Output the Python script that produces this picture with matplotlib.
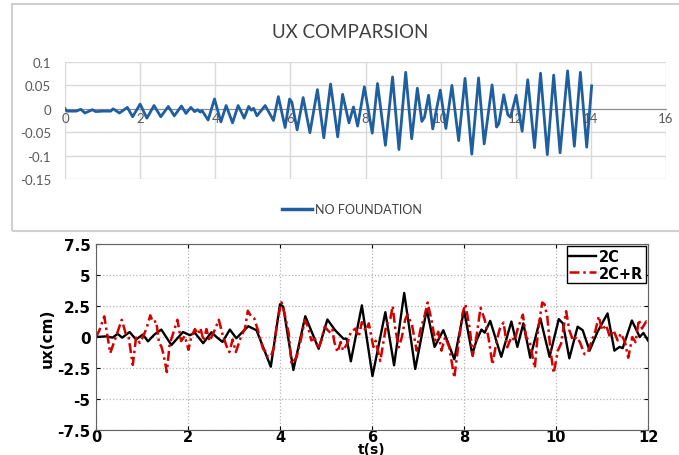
import numpy as np
import matplotlib.pyplot as plt
from matplotlib.patches import Rectangle
from matplotlib.lines import Line2D

# ---- top chart data (Excel) : NO FOUNDATION ----
t_nf = [0, 0.05, 0.3, 0.42, 0.53, 0.73, 0.82, 1.0, 1.22, 1.28, 1.45, 1.66, 1.8, 2.0,
        2.18, 2.37, 2.55, 2.75, 2.91, 3.1, 3.22, 3.35, 3.45, 3.53, 3.6, 3.65, 3.81, 3.98,
        4.15, 4.29, 4.46, 4.61, 4.77, 4.89, 4.96, 5.02, 5.11, 5.33, 5.55, 5.68, 5.86, 5.98,
        6.04, 6.18, 6.34, 6.52, 6.72, 6.89, 7.07, 7.26, 7.39, 7.56, 7.68, 7.79, 7.97, 8.18,
        8.32, 8.53, 8.72, 8.89, 9.07, 9.23, 9.38, 9.5, 9.57, 9.68, 9.79, 9.99, 10.14, 10.30,
        10.48, 10.65, 10.83, 11.01, 11.16, 11.37, 11.49, 11.55, 11.68, 11.79, 11.86, 12.01,
        12.17, 12.32, 12.50, 12.66, 12.84, 13.01, 13.18, 13.38, 13.56, 13.72, 13.89, 14.02]
v_nf = [0.0, -0.005, -0.005, -0.001, -0.009, -0.002, -0.006, -0.005, -0.005, 0.0, -0.009,
        0.003, -0.017, 0.010, -0.020, 0.007, -0.017, 0.005, -0.015, 0.006, -0.010, 0.003,
        -0.006, -0.002, -0.007, -0.004, -0.024, 0.021, -0.028, 0.007, -0.030, 0.007, -0.020,
        0.005, -0.003, 0.001, -0.015, 0.007, -0.025, 0.026, -0.040, 0.021, 0.014, -0.045,
        0.024, -0.051, 0.041, -0.062, 0.053, -0.060, 0.031, -0.030, 0.004, -0.037, 0.047,
        -0.052, 0.054, -0.078, 0.068, -0.087, 0.078, -0.064, 0.044, -0.027, -0.018, 0.029,
        -0.043, 0.040, -0.042, 0.050, -0.068, 0.065, -0.097, 0.066, -0.075, 0.051, -0.039,
        -0.032, 0.030, -0.013, -0.018, 0.029, -0.048, 0.062, -0.083, 0.076, -0.098, 0.072,
        -0.094, 0.081, -0.080, 0.078, -0.082, 0.049]

top_xticks = [0, 2, 4, 6, 8, 10, 12, 14, 16]
top_yticks = [-0.15, -0.1, -0.05, 0, 0.05, 0.1]
top_ylabels = ['-0.15', '-0.1', '-0.05', '0', '0.05', '0.1']

# ---- bottom chart data (MATLAB) : 2C and 2C+R ----
t_2c = [0, 0.22, 0.36, 0.47, 0.57, 0.73, 0.87, 1.02, 1.13, 1.27, 1.42, 1.64, 1.89, 2.04,
        2.15, 2.33, 2.51, 2.62, 2.75, 2.91, 3.05, 3.31, 3.49, 3.8, 4.0, 4.07, 4.29, 4.55,
        4.84, 5.03, 5.2, 5.38, 5.45, 5.54, 5.78, 6.01, 6.29, 6.48, 6.70, 6.94, 7.19, 7.36,
        7.55, 7.79, 8.0, 8.18, 8.27, 8.38, 8.45, 8.57, 8.81, 9.03, 9.16, 9.29, 9.44, 9.66,
        9.86, 10.06, 10.15, 10.29, 10.47, 10.58, 10.73, 10.9, 11.12, 11.27, 11.38, 11.45,
        11.65, 11.82, 11.9, 12.0]
v_2c = [0.0, 0.05, -0.05, 0.25, -0.05, 0.4, -0.2, 0.2, -0.35, 0.2, 0.6, -0.65, 0.4, 0.15,
        0.33, -0.5, 0.38, 0.0, -0.4, 0.6, -0.1, 0.87, 0.54, -2.4, 2.64, 2.45, -2.66, 1.68,
        -0.95, 1.41, 0.54, -0.14, -0.14, -1.96, 2.55, -3.15, 2.0, -2.28, 3.55, -2.58, 2.22,
        -0.8, 0.55, -1.8, 2.17, -1.4, -0.3, 0.6, 0.35, 1.3, -1.6, 1.25, -0.8, 1.1, -1.67,
        1.5, -1.6, 1.44, 1.1, -1.72, 0.83, 0.55, -1.1, 0.4, 1.9, -1.1, -0.8, -0.9, 1.33,
        0.0, 0.33, -0.28]

t_2cr = [0, 0.07, 0.18, 0.31, 0.4, 0.56, 0.65, 0.71, 0.8, 0.87, 0.95, 1.02, 1.1, 1.18,
         1.24, 1.31, 1.37, 1.42, 1.47, 1.54, 1.6, 1.67, 1.77, 1.85, 1.93, 2.01, 2.07, 2.15,
         2.22, 2.27, 2.34, 2.4, 2.47, 2.58, 2.67, 2.75, 2.84, 2.9, 2.97, 3.04, 3.15, 3.24,
         3.3, 3.37, 3.44, 3.52, 3.58, 3.63, 3.68, 3.74, 3.81, 3.88, 3.93, 4.03, 4.1, 4.19,
         4.25, 4.36, 4.45, 4.54, 4.61, 4.68, 4.76, 4.83, 4.9, 4.97, 5.04, 5.1, 5.14, 5.18,
         5.25, 5.32, 5.37, 5.46, 5.54, 5.64, 5.71, 5.78, 5.86, 5.93, 6.03, 6.08, 6.18, 6.31,
         6.4, 6.45, 6.5, 6.58, 6.65, 6.72, 6.77, 6.87, 6.97, 7.05, 7.14, 7.21, 7.3, 7.37,
         7.44, 7.51, 7.59, 7.68, 7.79, 7.88, 7.97, 8.03, 8.13, 8.19, 8.27, 8.36, 8.45, 8.53,
         8.62, 8.71, 8.78, 8.86, 8.94, 9.03, 9.1, 9.17, 9.28, 9.35, 9.43, 9.54, 9.61, 9.7,
         9.75, 9.81, 9.88, 9.95, 10.04, 10.11, 10.22, 10.29, 10.37, 10.45, 10.52, 10.62,
         10.69, 10.78, 10.86, 10.93, 11.0, 11.09, 11.17, 11.25, 11.34, 11.41, 11.5, 11.57,
         11.66, 11.73, 11.8, 11.87, 11.96, 12.0]
v_2cr = [0.0, 0.5, 1.67, -1.3, -0.33, 1.39, 0.22, -0.05, -2.25, -0.05, -0.47, 0.0, 0.72,
         1.75, 1.19, 1.28, -0.47, -0.75, -1.44, -2.83, -0.61, 0.22, 1.39, -0.33, 0.08,
         -1.03, 0.0, 0.64, 0.22, 0.72, -0.33, 0.64, -0.33, 0.56, 1.39, 0.22, -0.75, -1.22,
         -0.2, -1.22, 0.0, 0.68, 2.12, 1.68, 1.5, 0.54, -0.27, -0.95, -1.14, -1.63, -1.5,
         -0.68, 1.09, 2.8, 1.9, 0.27, -2.17, -1.63, -0.27, 1.36, 0.82, -0.27, -0.14, -0.95,
         -0.27, 0.82, 0.54, 0.33, 0.6, -0.4, -1.22, -0.4, -1.09, -0.54, 0.4, 0.68, 0.0, 1.2,
         0.5, 1.1, -0.8, -0.3, -1.94, 0.97, 1.5, 2.5, 0.83, -0.83, 0.0, 1.39, 1.8, 0.97,
         -1.1, 0.55, 1.67, 2.78, 1.25, -0.28, 0.42, -1.1, 0.0, -0.83, -3.28, -0.55, 1.94,
         2.64, 0.55, -1.53, 0.0, 2.36, 1.39, 0.0, -2.22, -0.28, 0.69, 1.17, -0.83, 0.0,
         -0.28, 0.69, 1.8, 0.0, -0.42, -2.5, 0.55, 2.78, 2.64, 1.67, -1.1, -2.92, -1.1,
         -0.55, 2.08, 0.55, -0.28, 0.0, -0.42, -1.39, -1.25, -0.28, 0.55, 1.67, 0.55, 0.97,
         0.0, 0.55, -0.28, 0.28, -0.42, -1.67, 0.0, -0.42, 1.39, 0.69, 1.25, 1.0]

bot_xticks = [0, 2, 4, 6, 8, 10, 12]
bot_yticks = [-7.5, -5, -2.5, 0, 2.5, 5, 7.5]
bot_ylabels = ['-7.5', '-5', '-2.5', '0', '2.5', '5', '7.5']

W, H = 679, 456
fig = plt.figure(figsize=(W / 100, H / 100), dpi=100)

# light frame around the Excel chart
fig.add_artist(Rectangle((12 / W, 1 - 232 / H), 1.0, 227 / H, transform=fig.transFigure,
                         fill=False, edgecolor='#d0d0d0', lw=1.5))

# ---- top chart ----
blue = '#1f5f9f'
ax1 = fig.add_axes([65 / W, 1 - 180 / H, 601 / W, 117 / H])
ax1.plot(t_nf, v_nf, color=blue, lw=2, zorder=3)
ax1.set_xlim(0, 16)
ax1.set_ylim(-0.15, 0.1)
ax1.set_xticks(top_xticks)
ax1.set_yticks(top_yticks)
ax1.set_yticklabels(top_ylabels)
ax1.grid(True, color='#d9d9d9', lw=1)
ax1.set_axisbelow(True)
for s in ['top', 'right', 'left']:
    ax1.spines[s].set_visible(False)
ax1.spines['bottom'].set_position(('data', 0))
ax1.spines['bottom'].set_color('#8c8c8c')
ax1.tick_params(length=0, labelsize=9.5, labelcolor='#595959', labelfontfamily='Lato')
ax1.tick_params(axis='y', pad=10)
ax1.tick_params(axis='x', pad=2)
fig.text(350 / W, 1 - 32 / H, 'UX COMPARSION', ha='center', va='center',
         fontsize=13.5, color='#404040', family='Lato')
fig.legend([Line2D([], [], color=blue, lw=2.5)], ['NO FOUNDATION'], loc='center',
           bbox_to_anchor=(352 / W, 1 - 210 / H), frameon=False,
           prop={'family': 'Lato', 'size': 9}, labelcolor='#404040',
           handlelength=2.4, handletextpad=0.3)

# ---- bottom chart ----
ax2 = fig.add_axes([96 / W, 1 - 431 / H, 552 / W, 186 / H])
ax2.plot(t_2c, v_2c, color='black', lw=1.7, label='2C')
ax2.plot(t_2cr, v_2cr, color='#d40000', lw=1.8, dashes=(4, 1.5, 1, 1.5), label='2C+R')
ax2.set_xlim(0, 12)
ax2.set_ylim(-7.5, 7.5)
ax2.set_xticks(bot_xticks)
ax2.set_xticklabels([str(x) for x in bot_xticks], fontweight='bold', fontsize=10.5)
ax2.set_yticks(bot_yticks)
ax2.set_yticklabels(bot_ylabels, fontweight='bold', fontsize=11)
ax2.grid(True, linestyle=':', color='#b5b5b5', lw=0.9)
for s in ax2.spines.values():
    s.set_color('#606060')
ax2.tick_params(direction='in', length=3, top=True, right=True)
ax2.tick_params(axis='x', pad=-1)
ax2.tick_params(axis='y', pad=4)
ax2.set_xlabel('t(s)', fontweight='bold', fontsize=10, labelpad=-1)
ax2.set_ylabel('ux(cm)', fontweight='bold', fontsize=11, labelpad=2)
ax2.legend(loc='upper right', prop={'weight': 'bold', 'size': 10.5}, fancybox=False,
           edgecolor='black', framealpha=1, borderpad=0.2, borderaxespad=0.15,
           handlelength=1.8, handletextpad=0.2, labelspacing=0.1)

fig.savefig('out.png', dpi=100)
